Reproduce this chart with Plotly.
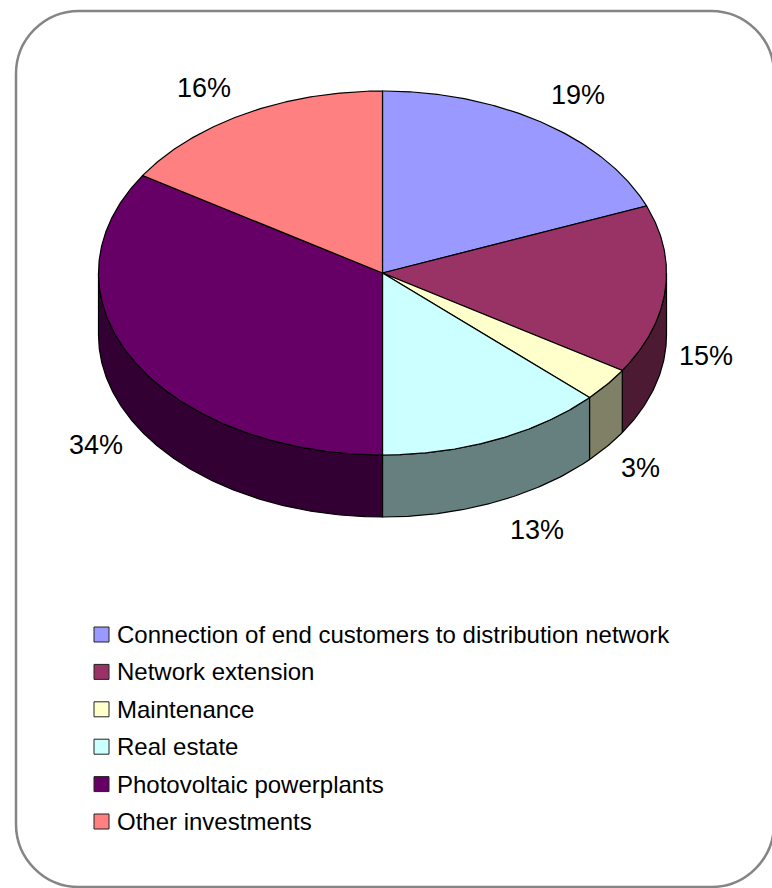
import numpy as np
import plotly.graph_objects as go

# Investment structure (share of total, %)
categories = [
    "Connection of end customers to distribution network",
    "Network extension",
    "Maintenance",
    "Real estate",
    "Photovoltaic powerplants",
    "Other investments",
]
shares = [19, 15, 3, 13, 34, 16]
label_text = [f"{v}%" for v in shares]

top_colors = ["#9999FF", "#993366", "#FFFFCC", "#CCFFFF", "#660066", "#FF8080"]
side_colors = ["#4C4C80", "#4D1A33", "#808066", "#668080", "#330033", "#804040"]

# Pie geometry in pixel space (axes are mapped 1:1 to the page)
W, H = 772, 888
CX, CY = 382.5, 273.0
RX, RY = 284.0, 182.0
DEPTH = 62.0

# percent label anchor points
label_pos = [(578, 95), (706, 356), (640, 468), (537, 530), (96, 445), (204, 88)]


def rim(theta_deg, drop=0.0):
    t = np.radians(theta_deg)
    return CX + RX * np.sin(t), CY - RY * np.cos(t) + drop


fig = go.Figure()

total = float(sum(shares))
bounds = np.concatenate([[0.0], np.cumsum(shares) / total * 360.0])

# side walls (only the front half, 90..270 deg clockwise from top, is visible)
for i, name in enumerate(categories):
    a, b = bounds[i], bounds[i + 1]
    lo, hi = max(a, 90.0), min(b, 270.0)
    if hi <= lo:
        continue
    th = np.linspace(lo, hi, max(int((hi - lo) * 2), 4))
    xt, yt = rim(th)
    xb, yb = rim(th[::-1], DEPTH)
    xs = np.concatenate([xt, xb, xt[:1]])
    ys = np.concatenate([yt, yb, yt[:1]])
    fig.add_trace(go.Scatter(
        x=xs, y=ys, mode="lines", fill="toself",
        fillcolor=side_colors[i], line=dict(color="black", width=1.2),
        hoverinfo="skip", showlegend=False,
    ))

# top faces
for i, name in enumerate(categories):
    a, b = bounds[i], bounds[i + 1]
    th = np.linspace(a, b, max(int((b - a) * 2), 4))
    xa, ya = rim(th)
    xs = np.concatenate([[CX], xa, [CX]])
    ys = np.concatenate([[CY], ya, [CY]])
    fig.add_trace(go.Scatter(
        x=xs, y=ys, mode="lines", fill="toself",
        fillcolor=top_colors[i], line=dict(color="black", width=1.2),
        name=name, text=f"{name}: {label_text[i]}", hoverinfo="text",
        hoveron="fills", showlegend=False,
    ))

annotations = []
for (lx, ly), txt in zip(label_pos, label_text):
    annotations.append(dict(
        x=lx, y=ly, text=txt, showarrow=False, xref="x", yref="y",
        xanchor="center", yanchor="middle",
        font=dict(family="Liberation Sans, Arial, sans-serif", size=27, color="black"),
    ))

# legend block
shapes = []
LEG_X, LEG_Y0, LEG_STEP, SQ = 94.0, 634.5, 37.4, 15.0
for i, name in enumerate(categories):
    yc = LEG_Y0 + i * LEG_STEP
    shapes.append(dict(
        type="rect", xref="x", yref="y",
        x0=LEG_X, x1=LEG_X + SQ, y0=yc - SQ / 2, y1=yc + SQ / 2,
        fillcolor=top_colors[i], line=dict(color="#222222", width=1),
    ))
    annotations.append(dict(
        x=LEG_X + SQ + 6, y=yc, text=name, showarrow=False, xref="x", yref="y",
        xanchor="left", yanchor="middle",
        font=dict(family="Liberation Sans, Arial, sans-serif", size=24, color="black"),
    ))

# rounded chart frame
L, T, R, B, r = 16.0, 11.0, 774.0, 887.0, 63.0
k = 0.5523 * r
frame = (
    f"M {L + r},{T} L {R - r},{T} "
    f"C {R - r + k},{T} {R},{T + r - k} {R},{T + r} "
    f"L {R},{B - r} "
    f"C {R},{B - r + k} {R - r + k},{B} {R - r},{B} "
    f"L {L + r},{B} "
    f"C {L + r - k},{B} {L},{B - r + k} {L},{B - r} "
    f"L {L},{T + r} "
    f"C {L},{T + r - k} {L + r - k},{T} {L + r},{T} Z"
)
shapes.append(dict(type="path", path=frame, xref="x", yref="y",
                   line=dict(color="#858585", width=2.5), layer="below"))

fig.update_layout(
    width=W, height=H,
    margin=dict(l=0, r=0, t=0, b=0),
    paper_bgcolor="white", plot_bgcolor="white",
    xaxis=dict(range=[0, W], visible=False, fixedrange=True),
    yaxis=dict(range=[H, 0], visible=False, fixedrange=True),
    shapes=shapes, annotations=annotations,
    showlegend=False,
)

fig.write_html("out.html")
